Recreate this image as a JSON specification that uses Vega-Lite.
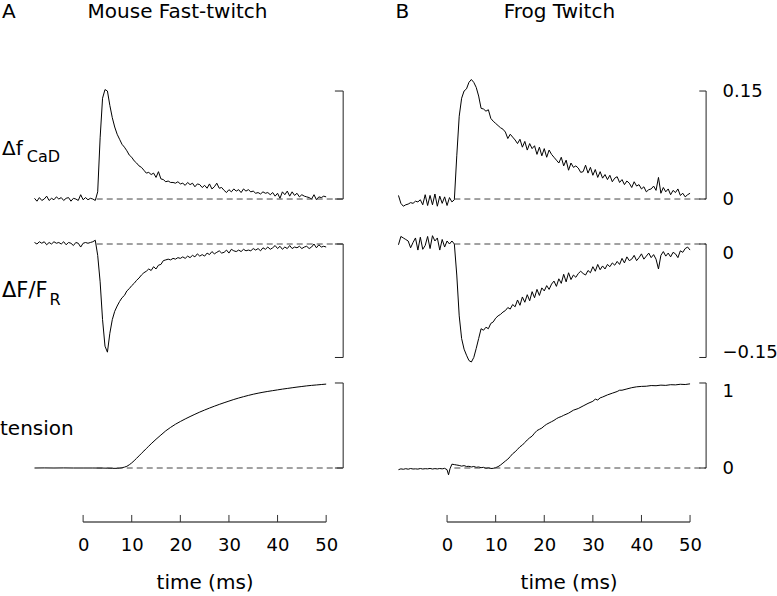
{
"$schema": "https://vega.github.io/schema/vega-lite/v6.json",
"padding": 0,
"autosize": {"type": "pad"},
"config": {"view": {"stroke": null}, "font": "DejaVu Sans"},
"datasets": {
"Af": [{"t":-10,"v":0.001},{"t":-9.5,"v":-0.003},{"t":-9,"v":0.002},{"t":-8.5,"v":-0.002},{"t":-8,"v":0},{"t":-7.5,"v":0.004},{"t":-7,"v":-0.002},{"t":-6.5,"v":0.001},{"t":-6,"v":-0.001},{"t":-5.5,"v":0.003},{"t":-5,"v":0},{"t":-4.5,"v":0.002},{"t":-4,"v":-0.002},{"t":-3.5,"v":0.001},{"t":-3,"v":0.002},{"t":-2.5,"v":-0.003},{"t":-2,"v":0.001},{"t":-1.5,"v":0},{"t":-1,"v":-0.002},{"t":-0.5,"v":0.006},{"t":0,"v":-0.001},{"t":0.5,"v":0.002},{"t":1,"v":-0.001},{"t":1.5,"v":0.001},{"t":2,"v":0},{"t":2.5,"v":-0.002},{"t":3,"v":0.01},{"t":3.5,"v":0.085},{"t":4,"v":0.14},{"t":4.5,"v":0.152},{"t":5,"v":0.15},{"t":5.5,"v":0.13},{"t":6,"v":0.113},{"t":6.5,"v":0.1},{"t":7,"v":0.09},{"t":7.5,"v":0.083},{"t":8,"v":0.076},{"t":8.5,"v":0.072},{"t":9,"v":0.067},{"t":9.5,"v":0.061},{"t":10,"v":0.058},{"t":10.5,"v":0.053},{"t":11,"v":0.05},{"t":11.5,"v":0.046},{"t":12,"v":0.044},{"t":12.5,"v":0.04},{"t":13,"v":0.036},{"t":13.5,"v":0.037},{"t":14,"v":0.034},{"t":14.5,"v":0.036},{"t":15,"v":0.03},{"t":15.5,"v":0.038},{"t":16,"v":0.028},{"t":16.5,"v":0.027},{"t":17,"v":0.024},{"t":17.5,"v":0.025},{"t":18,"v":0.023},{"t":18.5,"v":0.023},{"t":19,"v":0.022},{"t":19.5,"v":0.024},{"t":20,"v":0.021},{"t":20.5,"v":0.022},{"t":21,"v":0.019},{"t":21.5,"v":0.023},{"t":22,"v":0.02},{"t":22.5,"v":0.022},{"t":23,"v":0.017},{"t":23.5,"v":0.021},{"t":24,"v":0.02},{"t":24.5,"v":0.016},{"t":25,"v":0.019},{"t":25.5,"v":0.015},{"t":26,"v":0.021},{"t":26.5,"v":0.014},{"t":27,"v":0.017},{"t":27.5,"v":0.022},{"t":28,"v":0.015},{"t":28.5,"v":0.016},{"t":29,"v":0.012},{"t":29.5,"v":0.009},{"t":30,"v":0.013},{"t":30.5,"v":0.01},{"t":31,"v":0.014},{"t":31.5,"v":0.011},{"t":32,"v":0.013},{"t":32.5,"v":0.009},{"t":33,"v":0.014},{"t":33.5,"v":0.011},{"t":34,"v":0.013},{"t":34.5,"v":0.01},{"t":35,"v":0.011},{"t":35.5,"v":0.008},{"t":36,"v":0.009},{"t":36.5,"v":0.007},{"t":37,"v":0.01},{"t":37.5,"v":0.008},{"t":38,"v":0.009},{"t":38.5,"v":0.006},{"t":39,"v":0.009},{"t":39.5,"v":0.004},{"t":40,"v":0.008},{"t":40.5,"v":0.001},{"t":41,"v":0.01},{"t":41.5,"v":0.006},{"t":42,"v":0.011},{"t":42.5,"v":0.004},{"t":43,"v":0.01},{"t":43.5,"v":0.005},{"t":44,"v":0.008},{"t":44.5,"v":0.003},{"t":45,"v":0.006},{"t":45.5,"v":0.004},{"t":46,"v":0.003},{"t":46.5,"v":0.002},{"t":47,"v":0},{"t":47.5,"v":0.006},{"t":48,"v":-0.001},{"t":48.5,"v":0.003},{"t":49,"v":0.002},{"t":49.5,"v":0.004},{"t":50,"v":0.003}],
"AF": [{"t":-10,"v":0.002},{"t":-9.5,"v":0},{"t":-9,"v":0.003},{"t":-8.5,"v":0.001},{"t":-8,"v":0.003},{"t":-7.5,"v":-0.001},{"t":-7,"v":0.002},{"t":-6.5,"v":0},{"t":-6,"v":0.003},{"t":-5.5,"v":0.001},{"t":-5,"v":0.002},{"t":-4.5,"v":0},{"t":-4,"v":0.003},{"t":-3.5,"v":-0.001},{"t":-3,"v":0.002},{"t":-2.5,"v":0.001},{"t":-2,"v":-0.002},{"t":-1.5,"v":0.002},{"t":-1,"v":0.001},{"t":-0.5,"v":-0.004},{"t":0,"v":0.001},{"t":0.5,"v":0.002},{"t":1,"v":0.001},{"t":1.5,"v":0.002},{"t":2,"v":0.003},{"t":2.5,"v":0.005},{"t":3,"v":-0.015},{"t":3.5,"v":-0.05},{"t":4,"v":-0.1},{"t":4.5,"v":-0.135},{"t":5,"v":-0.143},{"t":5.5,"v":-0.118},{"t":6,"v":-0.1},{"t":6.5,"v":-0.089},{"t":7,"v":-0.082},{"t":7.5,"v":-0.076},{"t":8,"v":-0.071},{"t":8.5,"v":-0.068},{"t":9,"v":-0.062},{"t":9.5,"v":-0.059},{"t":10,"v":-0.055},{"t":10.5,"v":-0.052},{"t":11,"v":-0.048},{"t":11.5,"v":-0.045},{"t":12,"v":-0.041},{"t":12.5,"v":-0.038},{"t":13,"v":-0.036},{"t":13.5,"v":-0.033},{"t":14,"v":-0.035},{"t":14.5,"v":-0.03},{"t":15,"v":-0.033},{"t":15.5,"v":-0.028},{"t":16,"v":-0.027},{"t":16.5,"v":-0.022},{"t":17,"v":-0.021},{"t":17.5,"v":-0.02},{"t":18,"v":-0.021},{"t":18.5,"v":-0.019},{"t":19,"v":-0.02},{"t":19.5,"v":-0.018},{"t":20,"v":-0.019},{"t":20.5,"v":-0.017},{"t":21,"v":-0.019},{"t":21.5,"v":-0.016},{"t":22,"v":-0.018},{"t":22.5,"v":-0.015},{"t":23,"v":-0.017},{"t":23.5,"v":-0.013},{"t":24,"v":-0.016},{"t":24.5,"v":-0.014},{"t":25,"v":-0.016},{"t":25.5,"v":-0.012},{"t":26,"v":-0.014},{"t":26.5,"v":-0.01},{"t":27,"v":-0.013},{"t":27.5,"v":-0.011},{"t":28,"v":-0.009},{"t":28.5,"v":-0.012},{"t":29,"v":-0.011},{"t":29.5,"v":-0.008},{"t":30,"v":-0.012},{"t":30.5,"v":-0.007},{"t":31,"v":-0.009},{"t":31.5,"v":-0.01},{"t":32,"v":-0.008},{"t":32.5,"v":-0.01},{"t":33,"v":-0.007},{"t":33.5,"v":-0.009},{"t":34,"v":-0.008},{"t":34.5,"v":-0.009},{"t":35,"v":-0.006},{"t":35.5,"v":-0.008},{"t":36,"v":-0.006},{"t":36.5,"v":-0.009},{"t":37,"v":-0.005},{"t":37.5,"v":-0.007},{"t":38,"v":-0.004},{"t":38.5,"v":-0.007},{"t":39,"v":-0.005},{"t":39.5,"v":-0.002},{"t":40,"v":-0.006},{"t":40.5,"v":-0.003},{"t":41,"v":-0.007},{"t":41.5,"v":-0.004},{"t":42,"v":-0.006},{"t":42.5,"v":-0.002},{"t":43,"v":-0.006},{"t":43.5,"v":-0.004},{"t":44,"v":-0.005},{"t":44.5,"v":-0.003},{"t":45,"v":-0.006},{"t":45.5,"v":-0.004},{"t":46,"v":-0.003},{"t":46.5,"v":-0.006},{"t":47,"v":-0.004},{"t":47.5,"v":0},{"t":48,"v":-0.005},{"t":48.5,"v":-0.001},{"t":49,"v":-0.004},{"t":49.5,"v":-0.003},{"t":50,"v":-0.004}],
"AT": [{"t":-10,"v":0},{"t":-8,"v":0.001},{"t":-6,"v":0},{"t":-4,"v":0.001},{"t":-2,"v":0},{"t":0,"v":0},{"t":2,"v":0},{"t":4,"v":-0.001},{"t":5,"v":-0.002},{"t":6,"v":-0.004},{"t":7,"v":-0.004},{"t":7.5,"v":-0.002},{"t":8,"v":0.003},{"t":8.5,"v":0.01},{"t":9,"v":0.02},{"t":9.5,"v":0.038},{"t":10,"v":0.06},{"t":10.5,"v":0.086},{"t":11,"v":0.114},{"t":11.5,"v":0.143},{"t":12,"v":0.172},{"t":12.5,"v":0.2},{"t":13,"v":0.229},{"t":13.5,"v":0.257},{"t":14,"v":0.285},{"t":15,"v":0.338},{"t":16,"v":0.388},{"t":17,"v":0.437},{"t":18,"v":0.478},{"t":19,"v":0.515},{"t":20,"v":0.547},{"t":21,"v":0.577},{"t":22,"v":0.605},{"t":23,"v":0.632},{"t":24,"v":0.658},{"t":25,"v":0.682},{"t":26,"v":0.705},{"t":27,"v":0.727},{"t":28,"v":0.748},{"t":29,"v":0.768},{"t":30,"v":0.787},{"t":31,"v":0.806},{"t":32,"v":0.823},{"t":33,"v":0.839},{"t":34,"v":0.854},{"t":35,"v":0.868},{"t":36,"v":0.88},{"t":37,"v":0.891},{"t":38,"v":0.901},{"t":39,"v":0.91},{"t":40,"v":0.919},{"t":41,"v":0.928},{"t":42,"v":0.936},{"t":43,"v":0.944},{"t":44,"v":0.952},{"t":45,"v":0.959},{"t":46,"v":0.966},{"t":47,"v":0.972},{"t":48,"v":0.977},{"t":49,"v":0.982},{"t":50,"v":0.987}],
"Bf": [{"t":-10,"v":0.005},{"t":-9.5,"v":-0.006},{"t":-9,"v":-0.01},{"t":-8.5,"v":-0.008},{"t":-8,"v":-0.007},{"t":-7.5,"v":-0.005},{"t":-7,"v":-0.006},{"t":-6.5,"v":-0.003},{"t":-6,"v":-0.004},{"t":-5.5,"v":-0.001},{"t":-5,"v":-0.008},{"t":-4.5,"v":0.006},{"t":-4,"v":-0.009},{"t":-3.5,"v":0.005},{"t":-3,"v":-0.008},{"t":-2.5,"v":0.007},{"t":-2,"v":-0.01},{"t":-1.5,"v":0.004},{"t":-1,"v":-0.006},{"t":-0.5,"v":0.003},{"t":0,"v":-0.009},{"t":0.5,"v":0.002},{"t":1,"v":-0.004},{"t":1.5,"v":-0.001},{"t":2,"v":0.06},{"t":2.5,"v":0.115},{"t":3,"v":0.14},{"t":3.5,"v":0.15},{"t":4,"v":0.153},{"t":4.5,"v":0.162},{"t":5,"v":0.166},{"t":5.5,"v":0.162},{"t":6,"v":0.155},{"t":6.5,"v":0.143},{"t":7,"v":0.126},{"t":7.5,"v":0.125},{"t":8,"v":0.122},{"t":8.5,"v":0.124},{"t":9,"v":0.112},{"t":9.5,"v":0.108},{"t":10,"v":0.105},{"t":10.5,"v":0.102},{"t":11,"v":0.099},{"t":11.5,"v":0.097},{"t":12,"v":0.093},{"t":12.5,"v":0.084},{"t":13,"v":0.09},{"t":13.5,"v":0.086},{"t":14,"v":0.082},{"t":14.5,"v":0.077},{"t":15,"v":0.083},{"t":15.5,"v":0.072},{"t":16,"v":0.08},{"t":16.5,"v":0.068},{"t":17,"v":0.077},{"t":17.5,"v":0.07},{"t":18,"v":0.074},{"t":18.5,"v":0.062},{"t":19,"v":0.072},{"t":19.5,"v":0.06},{"t":20,"v":0.07},{"t":20.5,"v":0.058},{"t":21,"v":0.068},{"t":21.5,"v":0.062},{"t":22,"v":0.058},{"t":22.5,"v":0.054},{"t":23,"v":0.05},{"t":23.5,"v":0.058},{"t":24,"v":0.046},{"t":24.5,"v":0.054},{"t":25,"v":0.04},{"t":25.5,"v":0.05},{"t":26,"v":0.044},{"t":26.5,"v":0.046},{"t":27,"v":0.043},{"t":27.5,"v":0.037},{"t":28,"v":0.038},{"t":28.5,"v":0.047},{"t":29,"v":0.036},{"t":29.5,"v":0.044},{"t":30,"v":0.033},{"t":30.5,"v":0.041},{"t":31,"v":0.03},{"t":31.5,"v":0.038},{"t":32,"v":0.029},{"t":32.5,"v":0.034},{"t":33,"v":0.027},{"t":33.5,"v":0.033},{"t":34,"v":0.024},{"t":34.5,"v":0.029},{"t":35,"v":0.031},{"t":35.5,"v":0.023},{"t":36,"v":0.027},{"t":36.5,"v":0.02},{"t":37,"v":0.025},{"t":37.5,"v":0.022},{"t":38,"v":0.016},{"t":38.5,"v":0.024},{"t":39,"v":0.018},{"t":39.5,"v":0.02},{"t":40,"v":0.014},{"t":40.5,"v":0.017},{"t":41,"v":0.01},{"t":41.5,"v":0.013},{"t":42,"v":0.014},{"t":42.5,"v":0.018},{"t":43,"v":0.012},{"t":43.5,"v":0.03},{"t":44,"v":0.008},{"t":44.5,"v":0.016},{"t":45,"v":0.01},{"t":45.5,"v":0.014},{"t":46,"v":0.006},{"t":46.5,"v":0.012},{"t":47,"v":0.009},{"t":47.5,"v":0.014},{"t":48,"v":0.005},{"t":48.5,"v":0.008},{"t":49,"v":0.003},{"t":49.5,"v":0.006},{"t":50,"v":0.008}],
"BF": [{"t":-10,"v":-0.001},{"t":-9.5,"v":0.01},{"t":-9,"v":0.008},{"t":-8.5,"v":0.006},{"t":-8,"v":0.004},{"t":-7.5,"v":-0.005},{"t":-7,"v":0.002},{"t":-6.5,"v":0.008},{"t":-6,"v":-0.008},{"t":-5.5,"v":0.009},{"t":-5,"v":-0.007},{"t":-4.5,"v":-0.002},{"t":-4,"v":0.01},{"t":-3.5,"v":-0.006},{"t":-3,"v":0.011},{"t":-2.5,"v":0.004},{"t":-2,"v":0.008},{"t":-1.5,"v":-0.008},{"t":-1,"v":0.006},{"t":-0.5,"v":-0.004},{"t":0,"v":0.004},{"t":0.5,"v":0},{"t":1,"v":0.004},{"t":1.5,"v":0},{"t":2,"v":-0.041},{"t":2.5,"v":-0.095},{"t":3,"v":-0.125},{"t":3.5,"v":-0.139},{"t":4,"v":-0.147},{"t":4.5,"v":-0.154},{"t":5,"v":-0.156},{"t":5.5,"v":-0.15},{"t":6,"v":-0.138},{"t":6.5,"v":-0.125},{"t":7,"v":-0.112},{"t":7.5,"v":-0.114},{"t":8,"v":-0.11},{"t":8.5,"v":-0.112},{"t":9,"v":-0.105},{"t":9.5,"v":-0.103},{"t":10,"v":-0.098},{"t":10.5,"v":-0.095},{"t":11,"v":-0.093},{"t":11.5,"v":-0.09},{"t":12,"v":-0.088},{"t":12.5,"v":-0.084},{"t":13,"v":-0.086},{"t":13.5,"v":-0.08},{"t":14,"v":-0.083},{"t":14.5,"v":-0.074},{"t":15,"v":-0.081},{"t":15.5,"v":-0.07},{"t":16,"v":-0.077},{"t":16.5,"v":-0.067},{"t":17,"v":-0.075},{"t":17.5,"v":-0.063},{"t":18,"v":-0.071},{"t":18.5,"v":-0.06},{"t":19,"v":-0.068},{"t":19.5,"v":-0.058},{"t":20,"v":-0.062},{"t":20.5,"v":-0.055},{"t":21,"v":-0.06},{"t":21.5,"v":-0.053},{"t":22,"v":-0.049},{"t":22.5,"v":-0.056},{"t":23,"v":-0.046},{"t":23.5,"v":-0.052},{"t":24,"v":-0.04},{"t":24.5,"v":-0.05},{"t":25,"v":-0.038},{"t":25.5,"v":-0.047},{"t":26,"v":-0.041},{"t":26.5,"v":-0.044},{"t":27,"v":-0.039},{"t":27.5,"v":-0.036},{"t":28,"v":-0.039},{"t":28.5,"v":-0.041},{"t":29,"v":-0.035},{"t":29.5,"v":-0.038},{"t":30,"v":-0.03},{"t":30.5,"v":-0.036},{"t":31,"v":-0.027},{"t":31.5,"v":-0.034},{"t":32,"v":-0.029},{"t":32.5,"v":-0.033},{"t":33,"v":-0.027},{"t":33.5,"v":-0.03},{"t":34,"v":-0.025},{"t":34.5,"v":-0.028},{"t":35,"v":-0.023},{"t":35.5,"v":-0.027},{"t":36,"v":-0.019},{"t":36.5,"v":-0.025},{"t":37,"v":-0.017},{"t":37.5,"v":-0.022},{"t":38,"v":-0.02},{"t":38.5,"v":-0.015},{"t":39,"v":-0.022},{"t":39.5,"v":-0.018},{"t":40,"v":-0.013},{"t":40.5,"v":-0.02},{"t":41,"v":-0.016},{"t":41.5,"v":-0.012},{"t":42,"v":-0.018},{"t":42.5,"v":-0.014},{"t":43,"v":-0.02},{"t":43.5,"v":-0.033},{"t":44,"v":-0.015},{"t":44.5,"v":-0.01},{"t":45,"v":-0.016},{"t":45.5,"v":-0.012},{"t":46,"v":-0.017},{"t":46.5,"v":-0.011},{"t":47,"v":-0.013},{"t":47.5,"v":-0.018},{"t":48,"v":-0.009},{"t":48.5,"v":-0.011},{"t":49,"v":-0.006},{"t":49.5,"v":-0.004},{"t":50,"v":-0.008}],
"BT": [{"t":-10,"v":-0.02},{"t":-9.5,"v":-0.01},{"t":-9,"v":-0.015},{"t":-8.5,"v":-0.008},{"t":-8,"v":-0.014},{"t":-7.5,"v":-0.006},{"t":-7,"v":-0.012},{"t":-6.5,"v":-0.01},{"t":-6,"v":-0.013},{"t":-5.5,"v":-0.006},{"t":-5,"v":-0.012},{"t":-4.5,"v":-0.008},{"t":-4,"v":-0.01},{"t":-3.5,"v":-0.005},{"t":-3,"v":-0.012},{"t":-2.5,"v":-0.007},{"t":-2,"v":-0.011},{"t":-1.5,"v":-0.006},{"t":-1,"v":-0.01},{"t":-0.5,"v":-0.004},{"t":0,"v":-0.02},{"t":0.3,"v":-0.08},{"t":0.6,"v":-0.01},{"t":1,"v":0.045},{"t":1.5,"v":0.04},{"t":2,"v":0.035},{"t":2.5,"v":0.03},{"t":3,"v":0.022},{"t":3.5,"v":0.028},{"t":4,"v":0.018},{"t":4.5,"v":0.02},{"t":5,"v":0.012},{"t":5.5,"v":0.018},{"t":6,"v":0.008},{"t":6.5,"v":0.012},{"t":7,"v":0.004},{"t":7.5,"v":0.008},{"t":8,"v":-0.004},{"t":8.5,"v":0.002},{"t":9,"v":-0.006},{"t":9.5,"v":-0.004},{"t":10,"v":0.004},{"t":10.5,"v":0.016},{"t":11,"v":0.035},{"t":11.5,"v":0.058},{"t":12,"v":0.082},{"t":12.5,"v":0.104},{"t":13,"v":0.135},{"t":13.5,"v":0.168},{"t":14,"v":0.19},{"t":14.5,"v":0.22},{"t":15,"v":0.25},{"t":15.5,"v":0.27},{"t":16,"v":0.3},{"t":16.5,"v":0.33},{"t":17,"v":0.355},{"t":17.5,"v":0.375},{"t":18,"v":0.41},{"t":18.5,"v":0.44},{"t":19,"v":0.455},{"t":19.5,"v":0.47},{"t":20,"v":0.495},{"t":20.5,"v":0.515},{"t":21,"v":0.53},{"t":21.5,"v":0.545},{"t":22,"v":0.56},{"t":22.5,"v":0.58},{"t":23,"v":0.595},{"t":23.5,"v":0.605},{"t":24,"v":0.62},{"t":25,"v":0.645},{"t":26,"v":0.68},{"t":27,"v":0.7},{"t":28,"v":0.73},{"t":29,"v":0.76},{"t":30,"v":0.785},{"t":30.5,"v":0.81},{"t":31,"v":0.8},{"t":31.5,"v":0.825},{"t":32,"v":0.835},{"t":33,"v":0.86},{"t":34,"v":0.88},{"t":35,"v":0.9},{"t":35.5,"v":0.915},{"t":36,"v":0.915},{"t":37,"v":0.93},{"t":38,"v":0.945},{"t":39,"v":0.955},{"t":40,"v":0.96},{"t":41,"v":0.962},{"t":42,"v":0.97},{"t":43,"v":0.968},{"t":44,"v":0.975},{"t":45,"v":0.972},{"t":46,"v":0.98},{"t":47,"v":0.978},{"t":48,"v":0.985},{"t":49,"v":0.982},{"t":50,"v":0.99}]
},
"columns": 2,
"spacing": {"row": 0, "column": 47.6},
"bounds": "flush",
"concat": [
{"width": 345.6, "height": 222, "layer": [
 {"data": {"name": "Af"}, "mark": {"type": "line", "color": "#000", "strokeWidth": 1},
  "encoding": {"x": {"field": "t", "type": "quantitative", "scale": {"domain": [-17.1, 54], "nice": false, "zero": false}, "axis": null},
               "y": {"field": "v", "type": "quantitative", "scale": {"domain": [-0.0319, 0.2764], "nice": false, "zero": false}, "axis": null}}},
 {"data": {"values": [{}]}, "mark": {"type": "rule", "color": "#444", "strokeDash": [6, 4], "strokeWidth": 1},
  "encoding": {"x": {"datum": 2.8, "axis": null}, "x2": {"datum": 53.5}, "y": {"datum": 0, "axis": null}}},
 {"data": {"values": [{}]}, "mark": {"type": "rule", "color": "#222"},
  "encoding": {"x": {"datum": 53.5, "axis": null}, "y": {"datum": 0, "axis": null}, "y2": {"datum": 0.15}}},
 {"data": {"values": [{"v": 0}, {"v": 0.15}]}, "mark": {"type": "rule", "color": "#222"},
  "encoding": {"x": {"datum": 51.8, "axis": null}, "x2": {"datum": 53.5}, "y": {"field": "v", "type": "quantitative", "axis": null}}},
 {"data": {"values": [{}]}, "mark": {"type": "text", "text": "A", "fontSize": 20, "align": "left", "baseline": "alphabetic", "color": "#000"},
  "encoding": {"x": {"datum": -16.69, "axis": null}, "y": {"datum": 0.2514, "axis": null}}},
 {"data": {"values": [{}]}, "mark": {"type": "text", "text": "Mouse Fast-twitch", "fontSize": 20, "align": "center", "baseline": "alphabetic", "color": "#000"},
  "encoding": {"x": {"datum": 19.42, "axis": null}, "y": {"datum": 0.2514, "axis": null}}},
 {"data": {"values": [{}]}, "mark": {"type": "text", "text": "Δf", "fontSize": 20, "align": "left", "baseline": "alphabetic", "color": "#000"},
  "encoding": {"x": {"datum": -16.69, "axis": null}, "y": {"datum": 0.0611, "axis": null}}},
 {"data": {"values": [{}]}, "mark": {"type": "text", "text": "CaD", "fontSize": 16, "align": "left", "baseline": "alphabetic", "color": "#000"},
  "encoding": {"x": {"datum": -11.6, "axis": null}, "y": {"datum": 0.0514, "axis": null}}}
]},
{"width": 315.9, "height": 222, "layer": [
 {"data": {"name": "Bf"}, "mark": {"type": "line", "color": "#000", "strokeWidth": 1},
  "encoding": {"x": {"field": "t", "type": "quantitative", "scale": {"domain": [-11, 54], "nice": false, "zero": false}, "axis": null},
               "y": {"field": "v", "type": "quantitative", "scale": {"domain": [-0.0319, 0.2764], "nice": false, "zero": false},
                     "axis": {"orient": "right", "values": [0, 0.15], "format": "~g", "domain": false, "ticks": false, "grid": false, "labelPadding": 12.5, "labelFontSize": 18, "labelColor": "#000", "labelFlush": false, "labelOverlap": false, "labelBaseline": "middle", "title": null}}}},
 {"data": {"values": [{}]}, "mark": {"type": "rule", "color": "#444", "strokeDash": [6, 4], "strokeWidth": 1},
  "encoding": {"x": {"datum": 1.5, "axis": null}, "x2": {"datum": 53.3}, "y": {"datum": 0}}},
 {"data": {"values": [{}]}, "mark": {"type": "rule", "color": "#222"},
  "encoding": {"x": {"datum": 53.3, "axis": null}, "y": {"datum": 0}, "y2": {"datum": 0.15}}},
 {"data": {"values": [{"v": 0}, {"v": 0.15}]}, "mark": {"type": "rule", "color": "#222"},
  "encoding": {"x": {"datum": 51.9, "axis": null}, "x2": {"datum": 53.3}, "y": {"field": "v", "type": "quantitative"}}},
 {"data": {"values": [{}]}, "mark": {"type": "text", "text": "B", "fontSize": 20, "align": "left", "baseline": "alphabetic", "color": "#000"},
  "encoding": {"x": {"datum": -10.63, "axis": null}, "y": {"datum": 0.2514}}},
 {"data": {"values": [{}]}, "mark": {"type": "text", "text": "Frog Twitch", "fontSize": 20, "align": "center", "baseline": "alphabetic", "color": "#000"},
  "encoding": {"x": {"datum": 23.11, "axis": null}, "y": {"datum": 0.2514}}}
]},
{"width": 345.6, "height": 150, "layer": [
 {"data": {"name": "AF"}, "mark": {"type": "line", "color": "#000", "strokeWidth": 1},
  "encoding": {"x": {"field": "t", "type": "quantitative", "scale": {"domain": [-17.1, 54], "nice": false, "zero": false}, "axis": null},
               "y": {"field": "v", "type": "quantitative", "scale": {"domain": [-0.1692, 0.0291], "nice": false, "zero": false}, "axis": null}}},
 {"data": {"values": [{}]}, "mark": {"type": "rule", "color": "#444", "strokeDash": [6, 4], "strokeWidth": 1},
  "encoding": {"x": {"datum": 2.8, "axis": null}, "x2": {"datum": 53.5}, "y": {"datum": 0, "axis": null}}},
 {"data": {"values": [{}]}, "mark": {"type": "rule", "color": "#222"},
  "encoding": {"x": {"datum": 53.5, "axis": null}, "y": {"datum": 0, "axis": null}, "y2": {"datum": -0.15}}},
 {"data": {"values": [{"v": 0}, {"v": -0.15}]}, "mark": {"type": "rule", "color": "#222"},
  "encoding": {"x": {"datum": 51.8, "axis": null}, "x2": {"datum": 53.5}, "y": {"field": "v", "type": "quantitative", "axis": null}}},
 {"data": {"values": [{}]}, "mark": {"type": "text", "text": "ΔF/F", "fontSize": 21, "align": "left", "baseline": "alphabetic", "color": "#000"},
  "encoding": {"x": {"datum": -16.69, "axis": null}, "y": {"datum": -0.07, "axis": null}}},
 {"data": {"values": [{}]}, "mark": {"type": "text", "text": "R", "fontSize": 16, "align": "left", "baseline": "alphabetic", "color": "#000"},
  "encoding": {"x": {"datum": -6.9, "axis": null}, "y": {"datum": -0.0806, "axis": null}}}
]},
{"width": 315.9, "height": 150, "layer": [
 {"data": {"name": "BF"}, "mark": {"type": "line", "color": "#000", "strokeWidth": 1},
  "encoding": {"x": {"field": "t", "type": "quantitative", "scale": {"domain": [-11, 54], "nice": false, "zero": false}, "axis": null},
               "y": {"field": "v", "type": "quantitative", "scale": {"domain": [-0.1692, 0.0291], "nice": false, "zero": false},
                     "axis": {"orient": "right", "values": [0, -0.15], "format": "~g", "domain": false, "ticks": false, "grid": false, "labelPadding": 12.5, "labelFontSize": 18, "labelColor": "#000", "labelFlush": false, "labelOverlap": false,
                              "labelBaseline": {"condition": {"test": "datum.value === 0", "value": "top"}, "value": "alphabetic"}, "title": null}}}},
 {"data": {"values": [{}]}, "mark": {"type": "rule", "color": "#444", "strokeDash": [6, 4], "strokeWidth": 1},
  "encoding": {"x": {"datum": 1.5, "axis": null}, "x2": {"datum": 53.3}, "y": {"datum": 0}}},
 {"data": {"values": [{}]}, "mark": {"type": "rule", "color": "#222"},
  "encoding": {"x": {"datum": 53.3, "axis": null}, "y": {"datum": 0}, "y2": {"datum": -0.15}}},
 {"data": {"values": [{"v": 0}, {"v": -0.15}]}, "mark": {"type": "rule", "color": "#222"},
  "encoding": {"x": {"datum": 51.9, "axis": null}, "x2": {"datum": 53.3}, "y": {"field": "v", "type": "quantitative"}}}
]},
{"width": 345.6, "height": 123, "layer": [
 {"data": {"name": "AT"}, "mark": {"type": "line", "color": "#000", "strokeWidth": 1, "interpolate": "monotone"},
  "encoding": {"x": {"field": "t", "type": "quantitative", "scale": {"domain": [-17.1, 54], "nice": false, "zero": false}, "axis": null},
               "y": {"field": "v", "type": "quantitative", "scale": {"domain": [-0.3176, 1.1294], "nice": false, "zero": false}, "axis": null}}},
 {"data": {"values": [{}]}, "mark": {"type": "rule", "color": "#444", "strokeDash": [6, 4], "strokeWidth": 1},
  "encoding": {"x": {"datum": 2.8, "axis": null}, "x2": {"datum": 53.5}, "y": {"datum": 0, "axis": null}}},
 {"data": {"values": [{}]}, "mark": {"type": "rule", "color": "#222"},
  "encoding": {"x": {"datum": 53.5, "axis": null}, "y": {"datum": 0, "axis": null}, "y2": {"datum": 1}}},
 {"data": {"values": [{"v": 0}, {"v": 1}]}, "mark": {"type": "rule", "color": "#222"},
  "encoding": {"x": {"datum": 51.8, "axis": null}, "x2": {"datum": 53.5}, "y": {"field": "v", "type": "quantitative", "axis": null}}},
 {"data": {"values": [{}]}, "mark": {"type": "text", "text": "tension", "fontSize": 20, "align": "left", "baseline": "alphabetic", "color": "#000"},
  "encoding": {"x": {"datum": -17.1, "axis": null}, "y": {"datum": 0.388, "axis": null}}}
]},
{"width": 315.9, "height": 123, "layer": [
 {"data": {"name": "BT"}, "mark": {"type": "line", "color": "#000", "strokeWidth": 1},
  "encoding": {"x": {"field": "t", "type": "quantitative", "scale": {"domain": [-11, 54], "nice": false, "zero": false}, "axis": null},
               "y": {"field": "v", "type": "quantitative", "scale": {"domain": [-0.3176, 1.1294], "nice": false, "zero": false},
                     "axis": {"orient": "right", "values": [0, 1], "format": "~g", "domain": false, "ticks": false, "grid": false, "labelPadding": 12.5, "labelFontSize": 18, "labelColor": "#000", "labelFlush": false, "labelOverlap": false,
                              "labelBaseline": {"condition": {"test": "datum.value === 1", "value": "top"}, "value": "middle"}, "title": null}}}},
 {"data": {"values": [{}]}, "mark": {"type": "rule", "color": "#444", "strokeDash": [6, 4], "strokeWidth": 1},
  "encoding": {"x": {"datum": 1.5, "axis": null}, "x2": {"datum": 53.3}, "y": {"datum": 0}}},
 {"data": {"values": [{}]}, "mark": {"type": "rule", "color": "#222"},
  "encoding": {"x": {"datum": 53.3, "axis": null}, "y": {"datum": 0}, "y2": {"datum": 1}}},
 {"data": {"values": [{"v": 0}, {"v": 1}]}, "mark": {"type": "rule", "color": "#222"},
  "encoding": {"x": {"datum": 51.9, "axis": null}, "x2": {"datum": 53.3}, "y": {"field": "v", "type": "quantitative"}}}
]},
{"width": 345.6, "height": 27, "layer": [
 {"data": {"values": [{}]}, "mark": {"type": "rule", "color": "#000"},
  "encoding": {"x": {"datum": 0, "scale": {"domain": [-17.1, 54], "nice": false, "zero": false}}, "x2": {"datum": 50},
               "y": {"datum": 0, "scale": {"domain": [0, 1], "nice": false, "zero": false}, "axis": null}}},
 {"data": {"values": [{"t": 0}, {"t": 10}, {"t": 20}, {"t": 30}, {"t": 40}, {"t": 50}]}, "mark": {"type": "rule", "color": "#333"},
  "encoding": {"x": {"field": "t", "type": "quantitative",
     "axis": {"values": [0, 10, 20, 30, 40, 50], "format": "d", "domain": false, "ticks": false, "grid": false, "labelPadding": 14, "labelFontSize": 18, "labelColor": "#000", "labelFlush": false, "labelOverlap": false,
              "title": "time (ms)", "titleFontSize": 20, "titleFontWeight": "normal", "titleColor": "#000", "titleX": 204.6, "titlePadding": 18}},
   "y": {"datum": 0, "axis": null}, "y2": {"datum": 0.26}}}
]},
{"width": 315.9, "height": 27, "layer": [
 {"data": {"values": [{}]}, "mark": {"type": "rule", "color": "#000"},
  "encoding": {"x": {"datum": 0, "scale": {"domain": [-11, 54], "nice": false, "zero": false}}, "x2": {"datum": 50},
               "y": {"datum": 0, "scale": {"domain": [0, 1], "nice": false, "zero": false}, "axis": null}}},
 {"data": {"values": [{"t": 0}, {"t": 10}, {"t": 20}, {"t": 30}, {"t": 40}, {"t": 50}]}, "mark": {"type": "rule", "color": "#333"},
  "encoding": {"x": {"field": "t", "type": "quantitative",
     "axis": {"values": [0, 10, 20, 30, 40, 50], "format": "d", "domain": false, "ticks": false, "grid": false, "labelPadding": 14, "labelFontSize": 18, "labelColor": "#000", "labelFlush": false, "labelOverlap": false,
              "title": "time (ms)", "titleFontSize": 20, "titleFontWeight": "normal", "titleColor": "#000", "titleX": 175, "titlePadding": 18}},
   "y": {"datum": 0, "axis": null}, "y2": {"datum": 0.26}}}
]}
]
}
